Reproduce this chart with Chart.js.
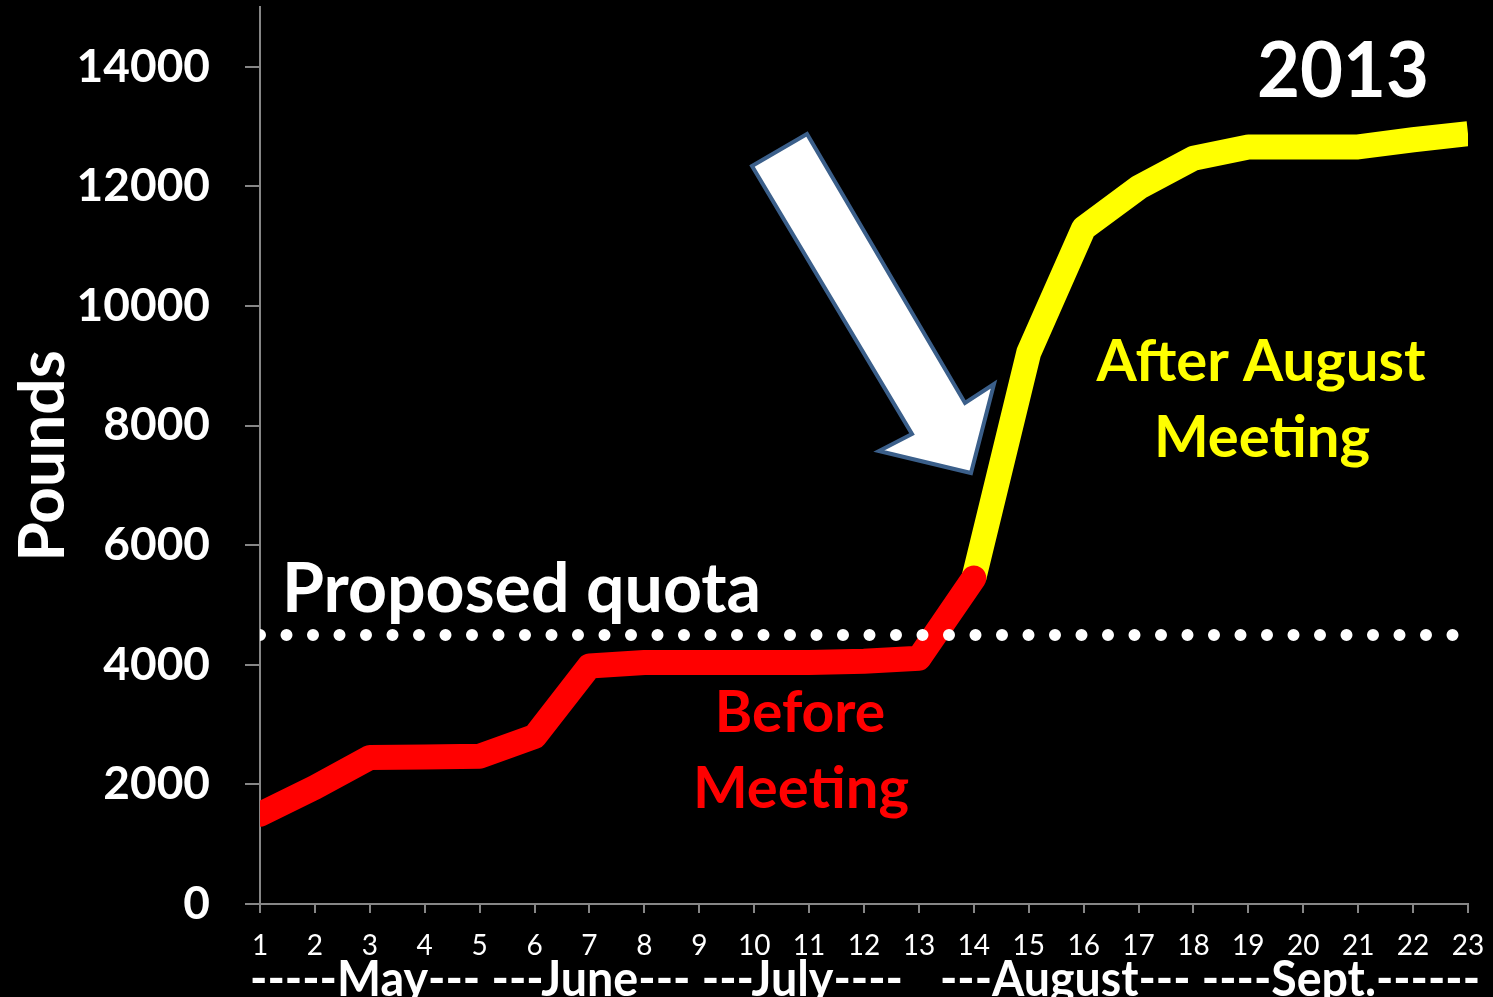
<!DOCTYPE html>
<html>
<head>
<meta charset="utf-8">
<title>Pounds 2013</title>
<script src="https://cdn.jsdelivr.net/npm/chart.js@4"></script>
<style>
    html, body { margin: 0; padding: 0; background: #000; }
    #wrap { width: 1493px; height: 997px; }
</style>
</head>
<body>
<div id="wrap"><canvas id="quotaChart" width="1493" height="997"></canvas></div>
<script>
// данные
const days = ['1', '2', '3', '4', '5', '6', '7', '8', '9', '10', '11', '12', '13', '14', '15', '16', '17', '18', '19', '20', '21', '22', '23'];
const beforeMeeting = [1500, 1950, 2450, 2460, 2470, 2800, 3980, 4040, 4040, 4040, 4040, 4060, 4110, 5450];
const afterMeeting = [null, null, null, null, null, null, null, null, null, null, null, null, null,
    5450, 9220, 11300, 11980, 12470, 12660, 12660, 12660, 12780, 12880];
const proposedQuota = 4500;
const quotaLine = days.map(() => proposedQuota);
const yTicks = [0, 2000, 4000, 6000, 8000, 10000, 12000, 14000];
const monthsLeft = '-----May--- ---June--- ---July----';
const monthsRight = '---August--- ----Sept.------';

const FONT = 'Lato, "Open Sans", sans-serif';
const axisGray = '#868686';

function drawText(ctx, text, x, y, size, color, align, maxW) {
    ctx.font = 'bold ' + size + 'px ' + FONT;
    ctx.fillStyle = color;
    ctx.textAlign = align;
    ctx.textBaseline = 'alphabetic';
    ctx.fillText(text, x, y, maxW);
}

const decor = {
    id: 'decor',
    beforeDraw(chart) {
        const ctx = chart.ctx;
        ctx.save();
        ctx.fillStyle = '#000';
        ctx.fillRect(0, 0, chart.width, chart.height);
        ctx.restore();
    },
    afterDraw(chart) {
        const ctx = chart.ctx;
        ctx.save();

        // стрелка
        ctx.beginPath();
        ctx.moveTo(752, 166);
        ctx.lineTo(807, 134);
        ctx.lineTo(965, 403);
        ctx.lineTo(994, 384);
        ctx.lineTo(971, 473);
        ctx.lineTo(879, 451);
        ctx.lineTo(912, 434);
        ctx.closePath();
        ctx.fillStyle = '#ffffff';
        ctx.fill();
        ctx.lineWidth = 4;
        ctx.lineJoin = 'miter';
        ctx.strokeStyle = '#3b5f8a';
        ctx.stroke();

        drawText(ctx, '2013', 1343, 97, 76, '#ffffff', 'center', 172);
        drawText(ctx, 'Proposed quota', 282, 612, 68, '#ffffff', 'left', 488);
        drawText(ctx, 'Before', 800, 732, 57, '#ff0000', 'center', 176);
        drawText(ctx, 'Meeting', 801, 808, 58, '#ff0000', 'center', 222);
        drawText(ctx, 'After August', 1261, 381, 58, '#ffff00', 'center', 334);
        drawText(ctx, 'Meeting', 1262, 457, 58, '#ffff00', 'center', 220);

        drawText(ctx, monthsLeft, 250, 996, 50, '#ffffff', 'left', 653);
        drawText(ctx, monthsRight, 940, 996, 50, '#ffffff', 'left', 540);

        // подпись оси Y
        ctx.translate(42, 456);
        ctx.rotate(-Math.PI / 2);
        drawText(ctx, 'Pounds', 0, 22, 64, '#ffffff', 'center', 224);
        ctx.restore();
    }
};

const ctx = document.getElementById('quotaChart').getContext('2d');
new Chart(ctx, {
    type: 'line',
    data: {
        labels: days,
        datasets: [{
            label: 'Proposed quota',
            data: quotaLine,
            borderColor: '#ffffff',
            borderWidth: 12,
            borderDash: [0, 26.5],
            borderCapStyle: 'round',
            pointRadius: 0,
            clip: 0
        }, {
            label: 'Before Meeting',
            data: beforeMeeting,
            borderColor: '#ff0000',
            borderWidth: 25,
            borderCapStyle: 'round',
            borderJoinStyle: 'round',
            pointRadius: 0,
            tension: 0,
            clip: 0
        }, {
            label: 'After August Meeting',
            data: afterMeeting,
            borderColor: '#ffff00',
            borderWidth: 25,
            borderCapStyle: 'butt',
            borderJoinStyle: 'round',
            pointRadius: 0,
            tension: 0,
            clip: 0
        }]
    },
    options: {
        responsive: false,
        animation: false,
        events: [],
        layout: { padding: { left: 0, top: 7, right: 25, bottom: 0 } },
        plugins: { legend: { display: false }, tooltip: { enabled: false } },
        scales: {
            x: {
                offset: false,
                afterFit(scale) {
                    scale.height = 93;
                    scale.paddingLeft = 0;
                    scale.paddingRight = 0;
                },
                grid: { display: true, drawOnChartArea: false, drawTicks: true, tickLength: 9, color: axisGray, lineWidth: 2 },
                border: { color: axisGray, width: 2 },
                ticks: {
                    color: '#ffffff',
                    font: { family: FONT, size: 28 },
                    padding: 16,
                    maxRotation: 0,
                    autoSkip: false
                }
            },
            y: {
                min: 0,
                max: 15000,
                afterFit(scale) {
                    scale.width = 260;
                    scale.paddingTop = 0;
                    scale.paddingBottom = 0;
                },
                afterBuildTicks(scale) {
                    scale.ticks = yTicks.map(v => ({ value: v }));
                },
                grid: { display: true, drawOnChartArea: false, drawTicks: true, tickLength: 15, color: axisGray, lineWidth: 2 },
                border: { color: axisGray, width: 2 },
                ticks: {
                    color: '#ffffff',
                    font: { family: FONT, size: 46, weight: 'bold' },
                    padding: 35,
                    callback: v => String(v)
                }
            }
        }
    },
    plugins: [decor]
});
</script>
</body>
</html>
